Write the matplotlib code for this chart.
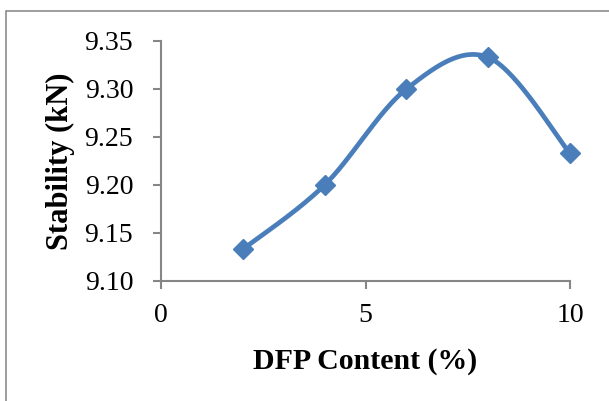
import numpy as np
import matplotlib.pyplot as plt
from matplotlib.patches import Rectangle

plt.rcParams.update({
    "font.family": "serif",
    "font.serif": ["Liberation Serif", "DejaVu Serif"],
    "font.size": 20,
})

dfp = [2, 4, 6, 8, 10]
stability = [9.133, 9.2, 9.3, 9.333, 9.233]

x_ticks = [0, 5, 10]
y_ticks = [9.10, 9.15, 9.20, 9.25, 9.30, 9.35]

line_color = "#4a7ebb"
axis_color = "#868686"


def smooth_curve(xs, ys, n=60):
    # bezier segments with catmull-rom style control points, ends repeated
    p = np.column_stack([xs, ys]).astype(float)
    p = np.vstack([p[0], p, p[-1]])
    t = np.linspace(0, 1, n)[:, None]
    out = []
    for i in range(1, len(p) - 2):
        p0, p3 = p[i], p[i + 1]
        p1 = p0 + (p[i + 1] - p[i - 1]) / 6
        p2 = p3 - (p[i + 2] - p[i]) / 6
        seg = ((1 - t) ** 3 * p0 + 3 * (1 - t) ** 2 * t * p1
               + 3 * (1 - t) * t ** 2 * p2 + t ** 3 * p3)
        out.append(seg)
    out = np.vstack(out)
    return out[:, 0], out[:, 1]


fig = plt.figure(figsize=(6.09, 4.01), dpi=100)
ax = fig.add_axes([161 / 609, 1 - 281 / 401, 409 / 609, 240 / 401])

sx, sy = smooth_curve(dfp, stability)
ax.plot(sx, sy, color=line_color, lw=3.4, solid_capstyle="round", zorder=2,
        clip_on=False)
ax.plot(dfp, stability, "D", color=line_color, ms=10, zorder=3, clip_on=False)

ax.set_xlim(0, 10)
ax.set_ylim(9.10, 9.35)
ax.set_xticks(x_ticks)
ax.set_yticks(y_ticks)
ax.set_yticklabels([f"{v:.2f}" for v in y_ticks])

for side in ["top", "right"]:
    ax.spines[side].set_visible(False)
for side in ["left", "bottom"]:
    ax.spines[side].set_color(axis_color)
    ax.spines[side].set_linewidth(1.5)
ax.tick_params(axis="both", direction="out", length=6, width=1.5, color=axis_color)
ax.tick_params(axis="y", pad=14)
ax.tick_params(axis="x", pad=10)

ax.set_xlabel("DFP Content (%)", fontsize=21.5, fontweight="bold", labelpad=14)
ax.set_ylabel("Stability (kN)", fontsize=22, fontweight="bold", labelpad=7)

# chart area border
fig.patches.append(Rectangle((6 / 609, -0.1), 1.2, (1 - 11 / 401) + 0.1,
                             transform=fig.transFigure, fill=False,
                             edgecolor="#8c8c8c", lw=1.2))

fig.savefig("out.png", dpi=100)
